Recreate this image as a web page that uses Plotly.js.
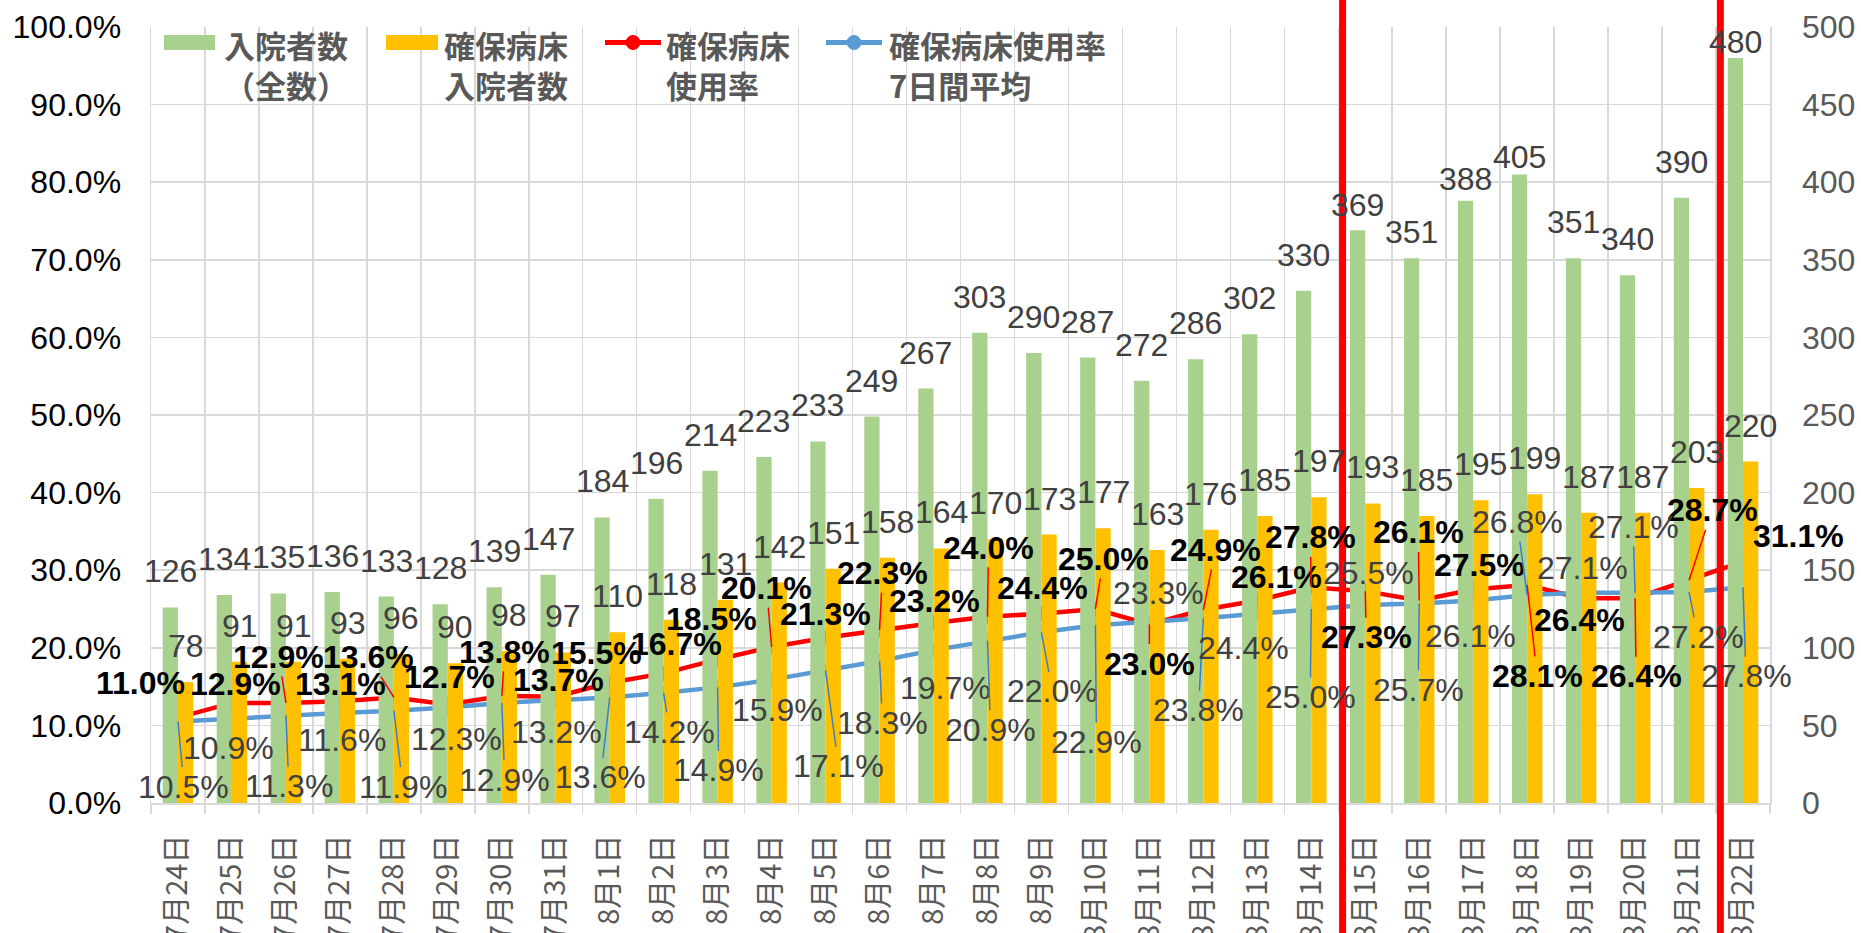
<!DOCTYPE html>
<html><head><meta charset="utf-8">
<script src="https://cdn.plot.ly/plotly-3.0.1.min.js"></script>
<style>html,body{margin:0;padding:0;background:#fff;overflow:hidden}#chart{width:1861px;height:933px}</style>
</head><body><div id="chart"></div>
<script>
// ---- data ----
const dates = ["7月24日","7月25日","7月26日","7月27日","7月28日","7月29日","7月30日","7月31日","8月1日","8月2日","8月3日","8月4日","8月5日","8月6日","8月7日","8月8日","8月9日","8月10日","8月11日","8月12日","8月13日","8月14日","8月15日","8月16日","8月17日","8月18日","8月19日","8月20日","8月21日","8月22日"];
const inpatientsAll = [126,134,135,136,133,128,139,147,184,196,214,223,233,249,267,303,290,287,272,286,302,330,369,351,388,405,351,340,390,480];
const securedInpatients = [78,91,91,93,96,90,98,97,110,118,131,142,151,158,164,170,173,177,163,176,185,197,193,185,195,199,187,187,203,220];
const occupancyRate = [11.0,12.9,12.9,13.1,13.6,12.7,13.8,13.7,15.5,16.7,18.5,20.1,21.3,22.3,23.2,24.0,24.4,25.0,23.0,24.9,26.1,27.8,27.3,26.1,27.5,28.1,26.4,26.4,28.7,31.1];
const occupancy7dAvg = [10.5,10.9,11.3,11.6,11.9,12.3,12.9,13.2,13.6,14.2,14.9,15.9,17.1,18.3,19.7,20.9,22.0,22.9,23.3,23.8,24.4,25.0,25.5,25.7,26.1,26.8,27.1,27.1,27.2,27.8];
const markedDates = ["8月15日","8月22日"];
const seriesNames = ["入院者数<br>（全数）","確保病床<br>入院者数","確保病床<br>使用率","確保病床使用率<br>7日間平均"];

// ---- label placement (pixel nudges, style only) ----
const greenLabelGap = [22.5,22.5,22.5,22.5,22.5,22.5,22.5,22.5,22.5,22.5,22.5,22.5,22.5,22.5,22.5,22.5,22.5,22.5,22.5,22.5,22.5,22.5,12,13,8,4,22.5,22.5,22.5,3];
const redLabelPos = [[-37,-35,0],[4,-19,0],[-7,-46,1],[1,-17,0],[-25,-40,1],[2,-27,0],[3,-44,1],[3,-17,0],[-13,-30,0],[13,-29,0],[-6,-40,0],[-5,-59,1],[0,-24,0],[3,-57,1],[1,-22,0],[1,-69,1],[1,-26,0],[8,-50,1],[0,39,1],[12,-60,1],[19,-23,0],[-1,-50,1],[1,46,1],[-1,-68,1],[6,-25,0],[10,91,1],[-2,22,0],[1,78,1],[23,-70,1],[55,-26,0]];
const blueLabelPos = [[6,65,1],[-3,30,0],[3,71,1],[2,27,0],[9,76,1],[9,31,0],[3,77,1],[1,31,0],[-9,80,1],[6,39,1],[1,83,1],[6,30,0],[13,96,1],[3,62,1],[12,38,0],[3,89,1],[11,59,1],[1,117,1],[9,-29,0],[-5,92,1],[-14,34,0],[-1,88,1],[3,-32,0],[-1,86,1],[-3,36,0],[-10,-73,1],[1,-25,0],[-2,-66,1],[9,45,1],[3,89,1]];

const W = 1861, H = 933;
const M = {l:151, r:91, t:27, b:130};
const plotW = W - M.l - M.r, plotH = H - M.t - M.b;
const N = dates.length;
const catW = plotW / N;
const BARGAP = 0.434;
const barShift = catW * (1 - BARGAP) / 4;
const NUM = '"Liberation Sans", Arial, sans-serif';
const JP = '"Noto Sans CJK JP", sans-serif';
const GREEN = '#A9D18E', ORANGE = '#FFC000', RED = '#FF0000', BLUE = '#5B9BD5';
const GRID = '#D9D9D9';
const NUMSIZE = 32, DIGIT_HALF = 13.5;

const px = x => (x - M.l) / plotW;
const py = y => 1 - (y - M.t) / plotH;

const traces = [
  {type:'bar', name:'入院者数（全数）', x:dates, y:inpatientsAll, yaxis:'y2', marker:{color:GREEN}, showlegend:false, hoverinfo:'skip'},
  {type:'bar', name:'確保病床入院者数', x:dates, y:securedInpatients, yaxis:'y2', marker:{color:ORANGE}, showlegend:false, hoverinfo:'skip'},
  {type:'scatter', mode:'lines+markers', name:'確保病床使用率', x:dates, y:occupancyRate.map(v=>v/100), yaxis:'y',
   line:{color:RED, width:4.5}, marker:{color:RED, size:15}, showlegend:false, hoverinfo:'skip'},
  {type:'scatter', mode:'lines+markers', name:'確保病床使用率7日間平均', x:dates, y:occupancy7dAvg.map(v=>v/100), yaxis:'y',
   line:{color:BLUE, width:4.5}, marker:{color:BLUE, size:15}, showlegend:false, hoverinfo:'skip'}
];

const annotations = [];
inpatientsAll.forEach((v,i)=>annotations.push({
  x:dates[i], y:v, xref:'x', yref:'y2', xshift:-barShift, yshift:greenLabelGap[i]+DIGIT_HALF,
  text:String(v), showarrow:false, xanchor:'center', yanchor:'middle',
  font:{family:NUM, size:NUMSIZE, color:'#404040'}
}));
securedInpatients.forEach((v,i)=>annotations.push({
  x:dates[i], y:v, xref:'x', yref:'y2', xshift:barShift, yshift:22.5+DIGIT_HALF,
  text:String(v), showarrow:false, xanchor:'center', yanchor:'middle',
  font:{family:NUM, size:NUMSIZE, color:'#404040'}
}));
occupancyRate.forEach((v,i)=>{
  const p = redLabelPos[i];
  annotations.push({
    x:dates[i], y:v/100, xref:'x', yref:'y', showarrow:true, ax:p[0], ay:p[1], axref:'pixel', ayref:'pixel',
    arrowhead:0, arrowwidth:1.5, standoff:0, arrowcolor: p[2] ? RED : 'rgba(0,0,0,0)',
    text:'<b>'+v.toFixed(1)+'%</b>', font:{family:NUM, size:NUMSIZE, color:'#000000'}
  });
});
occupancy7dAvg.forEach((v,i)=>{
  const p = blueLabelPos[i];
  annotations.push({
    x:dates[i], y:v/100, xref:'x', yref:'y', showarrow:true, ax:p[0], ay:p[1], axref:'pixel', ayref:'pixel',
    arrowhead:0, arrowwidth:1.5, standoff:0, arrowcolor: p[2] ? '#3C7DC4' : 'rgba(0,0,0,0)',
    text:v.toFixed(1)+'%', font:{family:NUM, size:NUMSIZE, color:'#404040'}
  });
});

// ---- custom legend ----
const legendItems = [
  {kind:'bar', color:GREEN, x0:164, x1:215, tx:222},
  {kind:'bar', color:ORANGE, x0:386, x1:438, tx:442},
  {kind:'line', color:RED, x0:605, x1:661, tx:664},
  {kind:'line', color:BLUE, x0:826, x1:882, tx:887}
];
const shapes = [];
legendItems.forEach((it,k)=>{
  if (it.kind==='bar') {
    shapes.push({type:'rect', xref:'paper', yref:'paper', x0:px(it.x0), x1:px(it.x1), y0:py(50), y1:py(35), fillcolor:it.color, line:{width:0}});
  } else {
    shapes.push({type:'line', xref:'paper', yref:'paper', x0:px(it.x0), x1:px(it.x1), y0:py(42.5), y1:py(42.5), line:{color:it.color, width:5}});
    const cx = (it.x0+it.x1)/2;
    shapes.push({type:'circle', xref:'paper', yref:'paper', x0:px(cx-7), x1:px(cx+7), y0:py(49.5), y1:py(35.5), fillcolor:it.color, line:{color:it.color, width:1}});
  }
  annotations.push({xref:'paper', yref:'paper', x:px(it.tx), y:py(64), xanchor:'left', yanchor:'middle', align:'left', showarrow:false,
    text:'<b>'+seriesNames[k]+'</b>', font:{family:JP, size:31, color:'#595959'}});
});
markedDates.forEach(d=>{
  const idx = dates.indexOf(d) + 0.08;
  shapes.push({type:'line', xref:'paper', yref:'paper', x0:idx/N, x1:idx/N, y0:-0.3, y1:1.1, line:{color:RED, width:7}, layer:'above'});
});

const layout = {
  width:W, height:H, margin:M, paper_bgcolor:'#ffffff', plot_bgcolor:'#ffffff',
  font:{family:JP, color:'#595959'},
  barmode:'group', bargap:BARGAP, bargroupgap:0,
  showlegend:false,
  xaxis:{type:'category', range:[-0.5, N-0.5], tickson:'boundaries', ticks:'outside', ticklen:9, tickwidth:1.5, tickcolor:GRID,
    showgrid:true, gridcolor:GRID, gridwidth:1.5, showline:true, linecolor:GRID, linewidth:2, ticklabelstandoff:18,
    tickangle:-90, tickfont:{family:JP, size:29, color:'#595959'}, automargin:false, fixedrange:true},
  yaxis:{range:[0,1], dtick:0.1, tickformat:'.1%', showgrid:true, gridcolor:GRID, gridwidth:1.5, zeroline:false,
    showline:true, linecolor:GRID, linewidth:1.5, ticks:'', ticklabelstandoff:22,
    tickfont:{family:NUM, size:NUMSIZE, color:'#000000'}, automargin:false, fixedrange:true},
  yaxis2:{range:[0,500], dtick:50, overlaying:'y', side:'right', showgrid:false, zeroline:false,
    showline:true, linecolor:GRID, linewidth:1.5, ticks:'', ticklabelstandoff:24,
    tickfont:{family:NUM, size:NUMSIZE, color:'#595959'}, automargin:false, fixedrange:true},
  annotations:annotations, shapes:shapes
};
Plotly.newPlot('chart', traces, layout, {staticPlot:true, displayModeBar:false});
</script>
</body></html>
